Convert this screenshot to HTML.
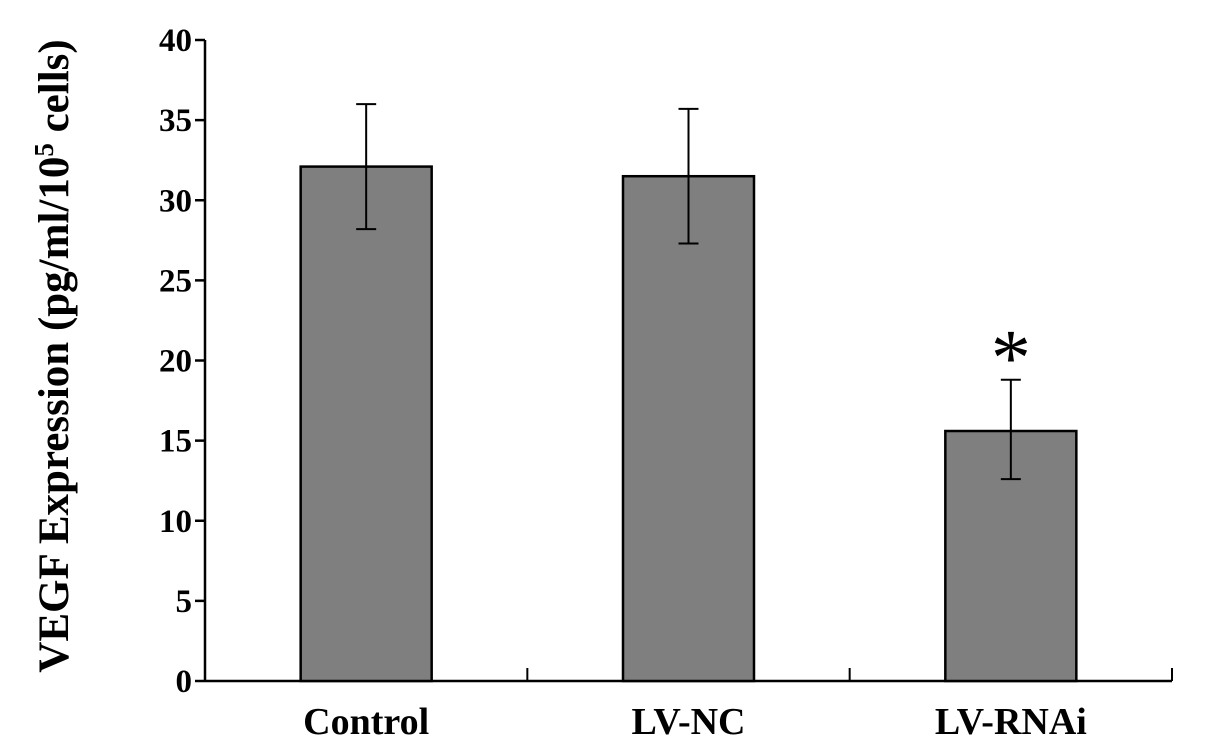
<!DOCTYPE html>
<html><head><meta charset="utf-8"><style>
body{margin:0;background:#fff}
svg{display:block;font-family:"Liberation Serif",serif;font-weight:bold}
</style></head><body>
<svg id="chart" width="1205" height="744"></svg>
<script>
const categories=["Control","LV-NC","LV-RNAi"];
const values=[32.1,31.5,15.6];
const errUpper=[36.0,35.7,18.8];
const errLower=[28.2,27.3,12.6];
const yTicks=[0,5,10,15,20,25,30,35,40];
const svg=document.getElementById('chart');
const NS="http://www.w3.org/2000/svg";
const x0=205,x1=1172,y0=681,yTop=40;
const yScale=v=>y0-(v/40)*(y0-yTop);
const band=(x1-x0)/categories.length;
const cx=i=>x0+band*(i+0.5);
function mk(t,a,txt){const e=document.createElementNS(NS,t);for(const k in a)e.setAttribute(k,a[k]);if(txt!==undefined)e.textContent=txt;svg.appendChild(e);return e;}
let e;
e=mk('line',{x1:x0,y1:yTop,x2:x0,y2:y0,stroke:'#000','stroke-width':2.5});


e=mk('line',{x1:x0,y1:y0,x2:x1,y2:y0,stroke:'#000','stroke-width':2.5});


yTicks.forEach(t=>{
 const y=yScale(t);
 e=mk('line',{x1:x0-10,y1:y,x2:x0,y2:y,stroke:'#000','stroke-width':2.5});
 
 
 e=mk('text',{x:x0-13,y:y+11,'text-anchor':'end','font-size':33},t);
 
 
});
for(let i=1;i<=categories.length;i++){
 const x=x0+band*i;
 e=mk('line',{x1:x,y1:y0,x2:x,y2:y0-13,stroke:'#000','stroke-width':2});
 
 
}
categories.forEach((c,i)=>{
 const bw=131,x=cx(i)-bw/2;
 e=mk('rect',{x:x,y:yScale(values[i]),width:bw,height:y0-yScale(values[i]),fill:'#7f7f7f',stroke:'#000','stroke-width':2.5});
 
 
 const yu=yScale(errUpper[i]),yl=yScale(errLower[i]);
 e=mk('path',{d:`M${cx(i)},${yu}V${yl}M${cx(i)-10},${yu}H${cx(i)+10}M${cx(i)-10},${yl}H${cx(i)+10}`,stroke:'#000','stroke-width':2,fill:'none'});
 
 
 e=mk('text',{x:cx(i),y:734,'text-anchor':'middle','font-size':38},c);
 
 
});
e=mk('text',{x:cx(2),y:yScale(errUpper[2])+5,'text-anchor':'middle','font-size':80,'font-weight':'normal'},'*');


</script>
<div style="position:absolute;left:54px;top:356px;transform:translate(-50%,-50%) rotate(-90deg);white-space:nowrap;font-family:'Liberation Serif',serif;font-weight:bold;font-size:43px">VEGF Expression (pg/ml/10<sup style="font-size:27px">5</sup> cells)</div>
</body></html>
